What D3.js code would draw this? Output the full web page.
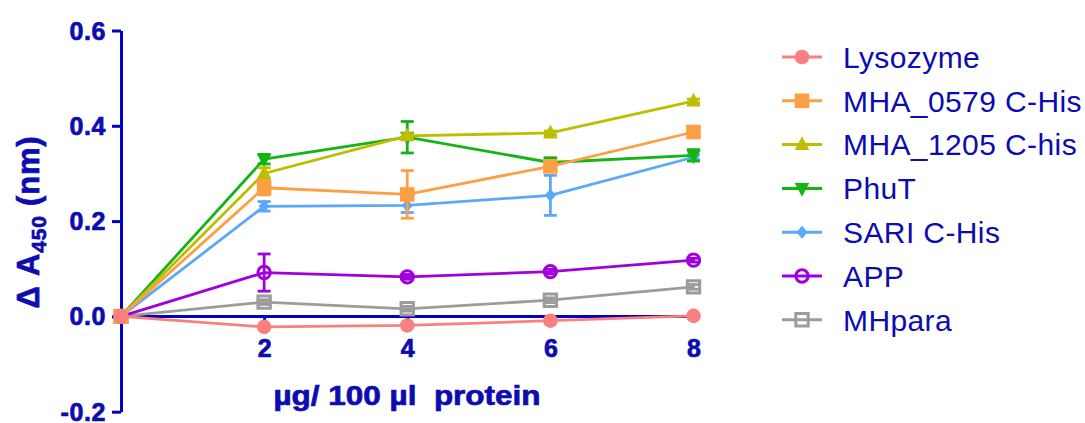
<!DOCTYPE html>
<html>
<head>
<meta charset="utf-8">
<script src="https://cdn.jsdelivr.net/npm/d3@7"></script>
<style>
  body { margin: 0; background: #fff; }
  svg { display: block; }
  text { font-family: "Liberation Sans", Arial, sans-serif; }
</style>
</head>
<body>
<svg id="chart" width="1085" height="423"></svg>
<script>
// Protein amount per well (µg / 100 µl)
const doses = [0, 2, 4, 6, 8];

// ΔA450 readings (mean) and error (± SD) for each protein
const lysozyme     = [0, -0.022, -0.019, -0.009, 0.001];
const lysozymeErr  = [0, 0, 0, 0, 0];
const mha0579      = [0, 0.270, 0.256, 0.315, 0.387];
const mha0579Err   = [0, 0.015, 0.050, 0.010, 0.005];
const mha1205      = [0, 0.300, 0.379, 0.385, 0.452];
const mha1205Err   = [0, 0.012, 0.004, 0.004, 0.004];
const phuT         = [0, 0.330, 0.376, 0.323, 0.338];
const phuTErr      = [0, 0.010, 0.033, 0.010, 0.012];
const sari         = [0, 0.231, 0.233, 0.254, 0.334];
const sariErr      = [0, 0.010, 0.015, 0.042, 0.005];
const app          = [0, 0.092, 0.083, 0.094, 0.118];
const appErr       = [0, 0.039, 0.005, 0.005, 0.004];
const mhPara       = [0, 0.030, 0.016, 0.034, 0.062];
const mhParaErr    = [0, 0.005, 0.005, 0.005, 0.005];

const seriesNames  = ["Lysozyme", "MHA_0579 C-His", "MHA_1205 C-his", "PhuT", "SARI C-His", "APP", "MHpara"];
const seriesColors = ["#fa8080", "#fd9f45", "#bebe00", "#14b414", "#5aa8f8", "#a000dc", "#9c9c9c"];
const seriesShapes = ["circle", "square", "triangle", "triangleDown", "diamond", "openCircle", "openSquare"];
const seriesValues = [lysozyme, mha0579, mha1205, phuT, sari, app, mhPara];
const seriesErrors = [lysozymeErr, mha0579Err, mha1205Err, phuTErr, sariErr, appErr, mhParaErr];

const yTicks = [-0.2, 0.0, 0.2, 0.4, 0.6];
const xTicks = [2, 4, 6, 8];

const axisColor = "#0000c8";
const textColor = "#0c0cb0";

const series = seriesNames.map((name, i) => ({
  name,
  color: seriesColors[i],
  shape: seriesShapes[i],
  points: doses.map((d, j) => ({ x: d, y: seriesValues[i][j], e: seriesErrors[i][j] }))
}));

const svg = d3.select("#chart");

const x = d3.scaleLinear().domain([0, 8]).range([121, 693.5]);
const y = d3.scaleLinear().domain([-0.2, 0.6]).range([411.7, 30.5]);

// marker path generator, centred on (0,0)
function markerPath(shape, s) {
  const p = d3.path();
  switch (shape) {
    case "circle":
    case "openCircle":
      p.arc(0, 0, s, 0, 2 * Math.PI); break;
    case "square":
    case "openSquare":
      p.rect(-s, -s, 2 * s, 2 * s); break;
    case "triangle":
      p.moveTo(0, -s * 1.15); p.lineTo(s * 1.0, s * 0.75); p.lineTo(-s * 1.0, s * 0.75); p.closePath(); break;
    case "triangleDown":
      p.moveTo(0, s * 1.15); p.lineTo(s * 1.0, -s * 0.75); p.lineTo(-s * 1.0, -s * 0.75); p.closePath(); break;
    case "diamond":
      p.moveTo(0, -s); p.lineTo(s * 0.85, 0); p.lineTo(0, s); p.lineTo(-s * 0.85, 0); p.closePath(); break;
  }
  return p.toString();
}
function drawMarker(g, shape, color) {
  const open = shape.startsWith("open");
  const size = shape === "diamond" ? 6.5 : (open ? 6.2 : 7.3);
  g.append("path")
    .attr("d", markerPath(shape, size))
    .attr("fill", open ? "none" : color)
    .attr("stroke", open ? color : "none")
    .attr("stroke-width", open ? 3 : 0);
}

// heavy bold text used for the axes
function heavy(sel, size) {
  sel.attr("fill", textColor)
    .attr("stroke", textColor).attr("stroke-width", 0.7)
    .style("font-size", size + "px").style("font-weight", "bold");
  return sel;
}

// ---- axes ----
const yAxis = d3.axisLeft(y).tickValues(yTicks)
  .tickFormat(d => d3.format(".1f")(d).replace("\u2212", "-"))
  .tickSize(9).tickSizeOuter(0).tickPadding(6);
const yg = svg.append("g").attr("transform", `translate(${x(0)},0)`).call(yAxis);
yg.select(".domain").attr("stroke", axisColor).attr("stroke-width", 3);
yg.selectAll(".tick line").attr("stroke", axisColor).attr("stroke-width", 3);
heavy(yg.selectAll(".tick text"), 25).attr("dy", "0.34em").style("letter-spacing", "0.6px");

const xAxis = d3.axisBottom(x).tickValues(xTicks).tickFormat(d3.format("d"))
  .tickSize(6).tickSizeOuter(0).tickPadding(17);
const xg = svg.append("g").attr("transform", `translate(0,${y(0)})`).call(xAxis);
xg.select(".domain").attr("stroke", axisColor).attr("stroke-width", 3)
  .attr("d", `M${x(0)},0H${x(8)}`);
xg.selectAll(".tick line").attr("stroke", axisColor).attr("stroke-width", 3);
heavy(xg.selectAll(".tick text"), 25);

// axis titles
heavy(svg.append("text"), 27)
  .attr("x", 407).attr("y", 405)
  .attr("text-anchor", "middle")
  .attr("xml:space", "preserve")
  .attr("textLength", 267).attr("lengthAdjust", "spacingAndGlyphs")
  .text("\u00b5g/ 100 \u00b5l  protein");

const yTitle = heavy(svg.append("text"), 31)
  .attr("transform", "translate(39,222) rotate(-90)")
  .attr("text-anchor", "middle")
  .style("letter-spacing", "0.8px");
yTitle.append("tspan").text("\u0394 A");
yTitle.append("tspan").attr("dy", 7).style("font-size", "21px").text("450");
yTitle.append("tspan").attr("dy", -7).text(" (nm)");

// ---- series (drawn bottom to top) ----
const line = d3.line().x(d => x(d.x)).y(d => y(d.y));
const drawOrder = series.slice().reverse();
const capHalf = 6.5;

drawOrder.forEach(s => {
  const g = svg.append("g");
  g.append("path").datum(s.points)
    .attr("d", line).attr("fill", "none")
    .attr("stroke", s.color).attr("stroke-width", 2.8);
  const eb = g.selectAll(".err").data(s.points.filter(p => p.e > 0)).join("g")
    .attr("stroke", s.color).attr("stroke-width", 2.8);
  eb.append("line").attr("x1", p => x(p.x)).attr("x2", p => x(p.x))
    .attr("y1", p => y(p.y - p.e)).attr("y2", p => y(p.y + p.e));
  eb.append("line").attr("x1", p => x(p.x) - capHalf).attr("x2", p => x(p.x) + capHalf)
    .attr("y1", p => y(p.y + p.e)).attr("y2", p => y(p.y + p.e));
  eb.append("line").attr("x1", p => x(p.x) - capHalf).attr("x2", p => x(p.x) + capHalf)
    .attr("y1", p => y(p.y - p.e)).attr("y2", p => y(p.y - p.e));
  s.points.forEach(p => {
    const mg = g.append("g").attr("transform", `translate(${x(p.x)},${y(p.y)})`);
    drawMarker(mg, s.shape, s.color);
  });
});

// ---- legend ----
const legend = svg.append("g");
series.forEach((s, i) => {
  const cy = 57 + i * 43.8;
  const row = legend.append("g");
  row.append("line").attr("x1", 782).attr("x2", 822).attr("y1", cy).attr("y2", cy)
    .attr("stroke", s.color).attr("stroke-width", 3);
  const mg = row.append("g").attr("transform", `translate(802,${cy})`);
  drawMarker(mg, s.shape, s.color);
  row.append("text").attr("x", 843).attr("y", cy).attr("dy", "0.36em")
    .attr("fill", textColor).style("font-size", "30px").style("letter-spacing", "0.4px")
    .text(s.name);
});
</script>
</body>
</html>
